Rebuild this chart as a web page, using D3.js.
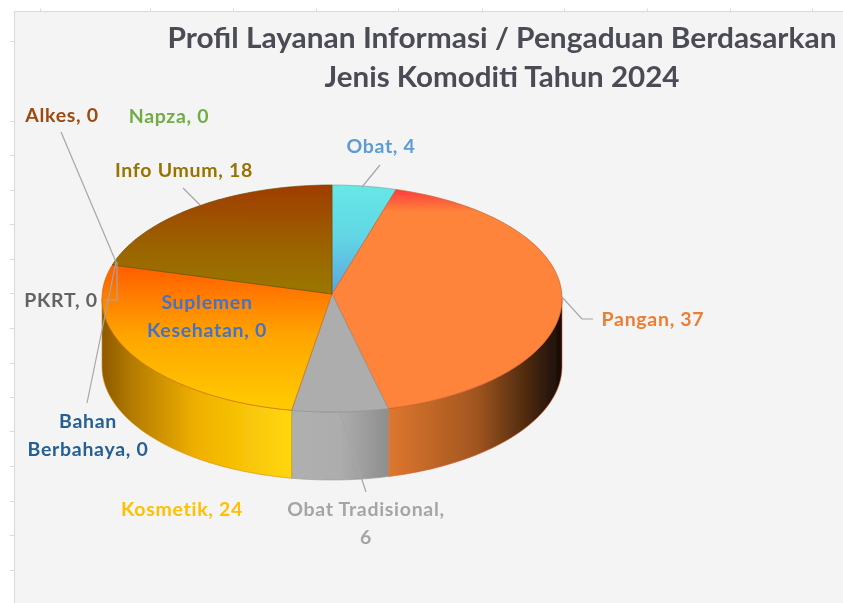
<!DOCTYPE html>
<html>
<head>
  <meta charset="utf-8">
  <style>
    html, body { margin: 0; padding: 0; background: #fff; }
    svg { display: block; }
    text { font-family: Lato, "Open Sans", sans-serif; }
  </style>
</head>
<body>
<div id="chart"></div>
<script src="https://d3js.org/d3.v7.min.js"></script>
<script>
const categories = ["Obat", "Pangan", "Obat Tradisional", "Kosmetik", "Suplemen Kesehatan", "Bahan Berbahaya", "PKRT", "Alkes", "Napza", "Info Umum"];
const values = [4, 37, 6, 24, 0, 0, 0, 0, 0, 18];
const titleLines = ["Profil Layanan Informasi / Pengaduan Berdasarkan", "Jenis Komoditi Tahun 2024"];
const rulerLeftTicks = [41, 121, 155, 190, 224, 259, 293, 328, 363, 397, 431, 466, 501, 535, 570];
const rulerTopTicks = [40, 150, 233, 316, 398, 482, 564, 647, 730, 812];

const labelColors = ["#5b9bd5", "#ed7d31", "#a5a5a5", "#ffc000", "#4472c4", "#255e91", "#636363", "#9e480e", "#70ad47", "#997300"];
const labelLines = [["Obat, 4"], ["Pangan, 37"], ["Obat Tradisional,", "6"], ["Kosmetik, 24"], ["Suplemen", "Kesehatan, 0"], ["Bahan", "Berbahaya, 0"], ["PKRT, 0"], ["Alkes, 0"], ["Napza, 0"], ["Info Umum, 18"]];
const labelPos = [[381, 153], [653, 326], [366, 516], [182, 516], [207, 309], [88, 428], [61, 307], [62, 122], [169, 123], [184, 177]];

const width = 843, height = 603;
const cx = 332, cy = 298.5, apexY = 294, rx = 230, ry = 113.5, depth = 68;

const svg = d3.select("#chart").append("svg").attr("width", width).attr("height", height);
const defs = svg.append("defs");

function gradient(id, x1, y1, x2, y2, stops) {
  const g = defs.append("linearGradient").attr("id", id).attr("gradientUnits", "userSpaceOnUse")
    .attr("x1", x1).attr("y1", y1).attr("x2", x2).attr("y2", y2);
  stops.forEach(s => g.append("stop").attr("offset", s[0]).attr("stop-color", s[1]));
}
// top faces run vertically, side walls horizontally
gradient("top0", 0, 186, 0, 294, [[0, "#66e8e6"], [0.5, "#62d4e4"], [1, "#5ba5df"]]);
gradient("top1", 0, 190, 0, 212, [[0, "#ff3d3d"], [1, "#ff843a"]]);
gradient("top3", 0, 262, 0, 410, [[0, "#ff5a00"], [0.5, "#ffa500"], [1, "#ffcc05"]]);
gradient("top9", 0, 185, 0, 290, [[0, "#a03c00"], [0.6, "#9b6400"], [1, "#9a7600"]]);
gradient("side1", 390, 0, 562, 0, [[0, "#dd762e"], [0.5, "#a2561f"], [0.85, "#3e220c"], [1, "#160d05"]]);
gradient("side2", 290, 0, 390, 0, [[0, "#b0b0b0"], [0.5, "#adadad"], [1, "#8d8d8d"]]);
gradient("side3", 103, 0, 290, 0, [[0, "#8f5a00"], [0.15, "#b27a00"], [0.5, "#f0b000"], [1, "#ffd70d"]]);

// the picture is a bit soft, like a scaled screenshot
defs.append("filter").attr("id", "soft").append("feGaussianBlur").attr("stdDeviation", 0.5);

// panel and the ruler ticks round it
const rulerScale = d3.scaleLinear().domain([0, width]).range([0, width]);
svg.append("rect").attr("x", 14.5).attr("y", 11.5).attr("width", width).attr("height", height)
  .attr("fill", "#f4f4f4").attr("stroke", "#dcdcdc").attr("stroke-width", 1.2);
const rulerLeft = svg.append("g").attr("transform", "translate(14.5,0)")
  .call(d3.axisLeft(rulerScale).tickValues(rulerLeftTicks).tickSize(5).tickFormat(""));
const rulerTop = svg.append("g").attr("transform", "translate(0,11.5)")
  .call(d3.axisTop(rulerScale).tickValues(rulerTopTicks).tickSize(3).tickFormat(""));
svg.selectAll(".domain").remove();
svg.selectAll(".tick line").attr("stroke", "#dcdcdc");

const pie = d3.pie().sort(null).value(d => d);
const slices = pie(values);

const px = a => cx + rx * Math.sin(a);
const py = a => cy - ry * Math.cos(a);

const chart = svg.append("g").attr("filter", "url(#soft)");

// side walls, only the part of each slice facing the viewer
const lo = Math.PI / 2, hi = 3 * Math.PI / 2;
slices.forEach((s, i) => {
  const a0 = Math.max(s.startAngle, lo), a1 = Math.min(s.endAngle, hi);
  if (a1 <= a0 || s.value === 0) return;
  const steps = d3.range(0, 41).map(k => a0 + (a1 - a0) * k / 40);
  const outline = steps.map(a => [px(a), py(a)]).concat(steps.slice().reverse().map(a => [px(a), py(a) + depth]));
  chart.append("path")
    .attr("d", d3.line()(outline) + "Z")
    .attr("fill", "url(#side" + i + ")")
    .attr("stroke", i === 1 ? "#d9532c" : i === 3 ? "#d98a00" : "#999")
    .attr("stroke-width", 0.6);
});

// top faces, gradients are in page space so each face is drawn by projected points
const topFill = ["url(#top0)", "url(#top1)", "#adadad", "url(#top3)", "#4472c4", "#255e91", "#636363", "#9e480e", "#70ad47", "url(#top9)"];
const topStroke = ["#7da0b0", "#c8602c", "#8f8f8f", "#c96a10", "#999", "#999", "#999", "#999", "#999", "#6e4a00"];
slices.forEach((s, i) => {
  if (s.value === 0) return;
  const steps = d3.range(0, 61).map(k => s.startAngle + (s.endAngle - s.startAngle) * k / 60);
  const outline = [[cx, apexY]].concat(steps.map(a => [px(a), py(a)]));
  chart.append("path")
    .attr("d", d3.line()(outline) + "Z")
    .attr("fill", topFill[i])
    .attr("stroke", topStroke[i])
    .attr("stroke-width", 0.7);
});

// leader lines
const leaders = [
  [[362, 187], [380, 165]],
  [[562, 297], [582, 319], [593, 319]],
  [[340, 412], [366, 492]],
  [[116, 262], [61, 132]],
  [[117, 262], [117, 300], [105, 300]],
  [[116, 262], [87, 403]],
  [[200, 205], [183, 188]]
];
chart.append("g").selectAll("path").data(leaders).enter().append("path")
  .attr("d", d3.line())
  .attr("fill", "none")
  .attr("stroke", "#a6a6a6")
  .attr("stroke-width", 1.2);

// data labels
const labels = svg.append("g").attr("filter", "url(#soft)");
labelLines.forEach((lines, i) => {
  const t = labels.append("text")
    .attr("x", labelPos[i][0]).attr("y", labelPos[i][1])
    .attr("text-anchor", "middle")
    .attr("font-size", 19.5)
    .attr("font-weight", 700)
    .attr("letter-spacing", 0.7)
    .attr("fill", labelColors[i]);
  lines.forEach((l, k) => t.append("tspan").attr("x", labelPos[i][0]).attr("dy", k ? 28 : 0).text(l));
});

// title
const titleWidths = [669, 355];
const title = labels.append("g").attr("fill", "#4b4b55").attr("font-size", 29).attr("font-weight", 700);
titleLines.forEach((l, k) => title.append("text")
  .attr("x", 502).attr("y", 48 + k * 39)
  .attr("text-anchor", "middle")
  .attr("textLength", titleWidths[k])
  .attr("lengthAdjust", "spacingAndGlyphs")
  .text(l));
</script>
</body>
</html>
